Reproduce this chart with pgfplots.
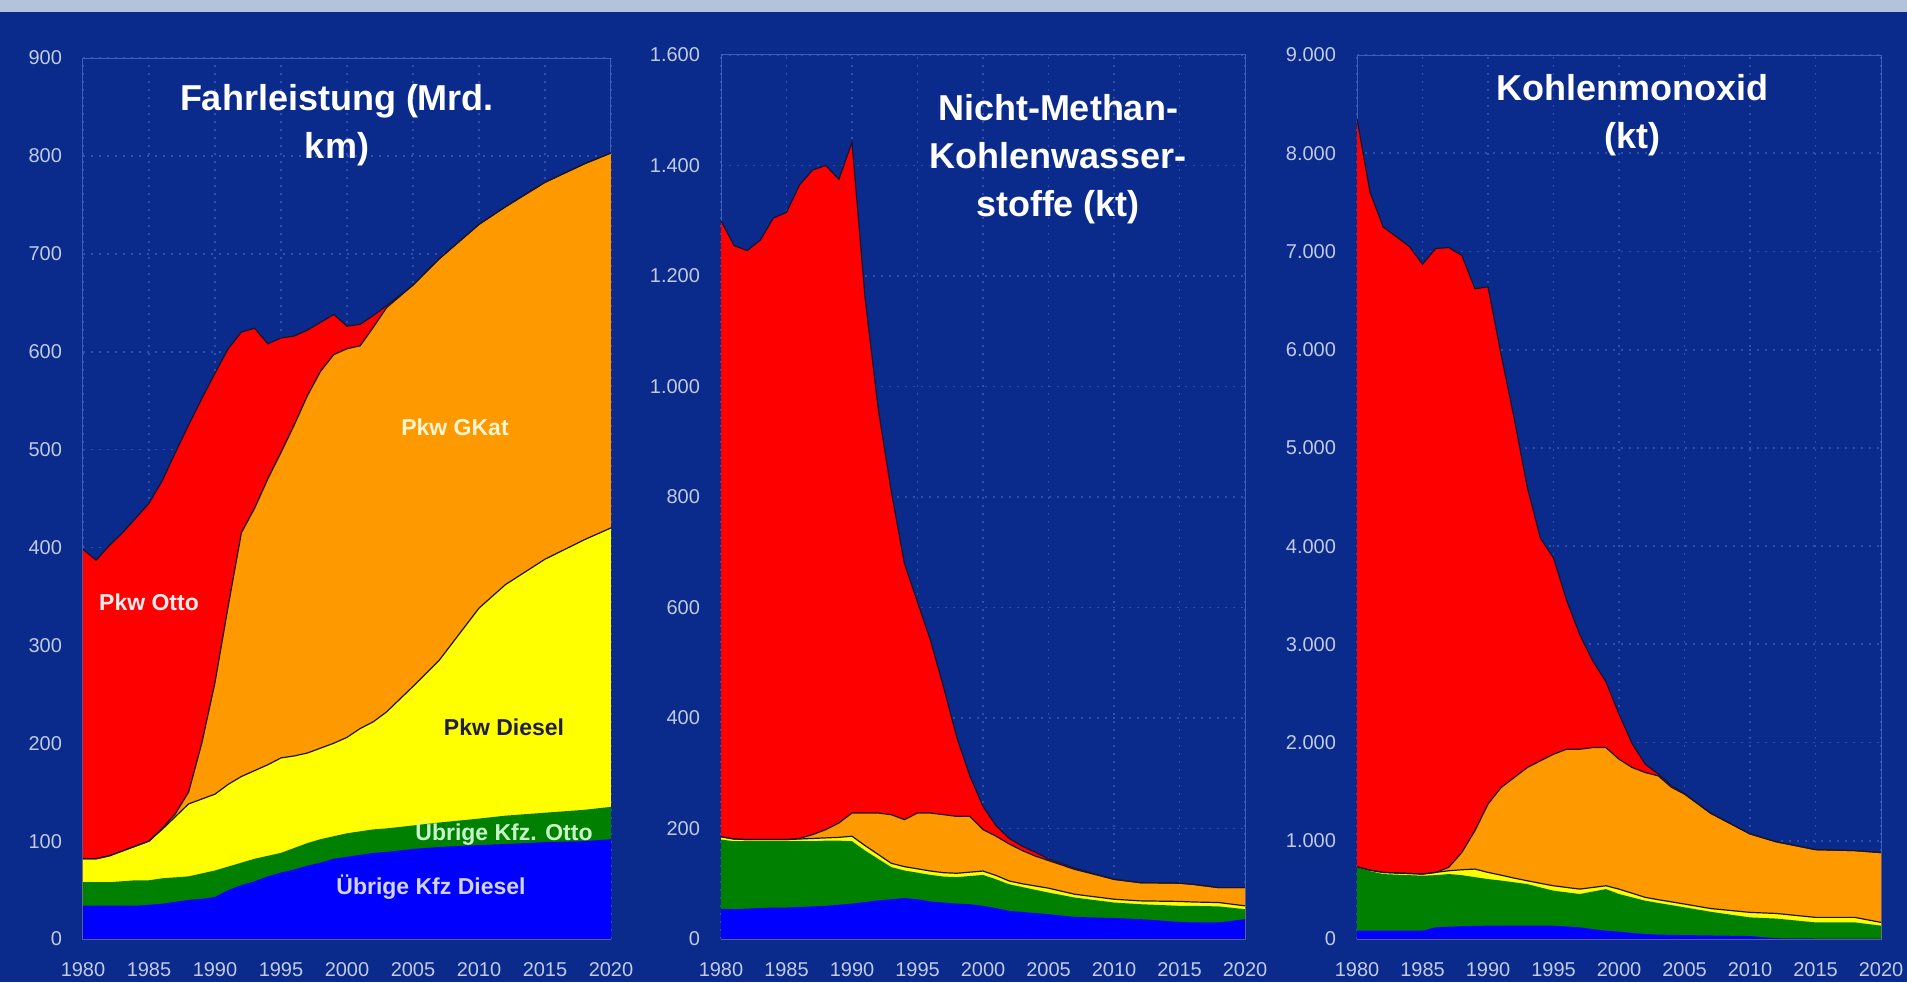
\documentclass[border=0pt]{standalone}
\usepackage{pgfplots}
\pgfplotsset{compat=1.18}
\usepackage{pgfplotstable}
\usepackage{fontspec}
\setmainfont{Liberation Sans}
\setsansfont{Liberation Sans}

\definecolor{bgblue}{RGB}{10,42,140}
\definecolor{band}{RGB}{180,195,220}
\definecolor{gridc}{RGB}{46,80,172}
\definecolor{framec}{RGB}{60,95,185}
\definecolor{tickc}{RGB}{192,203,230}
\definecolor{cRed}{RGB}{255,0,0}
\definecolor{cOrange}{RGB}{255,153,0}
\definecolor{cYellow}{RGB}{255,255,0}
\definecolor{cGreen}{RGB}{0,128,0}
\definecolor{cBlue}{RGB}{0,0,255}
\definecolor{edgec}{RGB}{25,20,45}

% cumulative tops: B = Uebrige Kfz Diesel, G = + Uebrige Kfz Otto,
% Y = + Pkw Diesel, O = + Pkw GKat, T = + Pkw Otto
\pgfplotstableread{
year B G Y O T
1980 34 58 82 82 398
1981 34 58 82 82 387
1982 34 58 85 85 402
1983 34 59 90 90 415
1984 34 60 95 95 430
1985 35 60 100 100 445
1986 36 62 112 113 468
1987 38 63 125 128 497
1988 40 64 138 150 525
1989 41 67 143 200 552
1990 43 70 148 262 578
1991 50 74 158 340 603
1992 55 78 166 415 620
1993 59 82 172 440 624
1994 64 85 178 470 608
1995 68 88 185 497 614
1996 71 93 187 525 616
1997 75 98 190 555 622
1998 78 102 195 580 630
1999 82 105 200 597 638
2000 84 108 206 603 626
2001 86 110 215 606 628
2002 88 112 222 625 637
2003 89 113 232 645 647
2005 92 116 258 668 668
2007 94 119 285 695 695
2010 96 123 338 730 730
2012 97 126 362 748 748
2015 99 129 388 773 773
2018 100 132 408 792 792
2020 102 135 420 803 803
}\fahr

\pgfplotstableread{
year B G Y O T
1980 54 180 185 185 1300
1981 54 177 181 181 1255
1982 55 177 180 180 1246
1983 56 177 180 180 1265
1984 57 177 180 180 1305
1985 57 177 180 180 1315
1986 58 177 181 182 1365
1987 59 177 182 189 1392
1988 60 178 183 198 1400
1989 62 178 184 210 1375
1990 64 177 186 228 1442
1991 67 160 169 228 1160
1992 70 145 153 228 960
1993 72 130 137 225 810
1994 74 124 131 216 680
1995 72 120 127 228 610
1996 68 116 123 228 540
1997 66 113 120 225 455
1998 64 112 119 222 365
1999 63 114 121 222 295
2000 60 116 123 198 240
2001 56 108 115 186 205
2002 51 99 105 172 182
2003 49 94 100 160 168
2004 47 89 96 150 157
2005 45 84 92 142 145
2007 40 75 81 126 128
2010 38 66 72 108 108
2012 36 63 69 102 102
2015 31 60 68 101 101
2016 30 60 67 99 99
2018 30 59 66 93 93
2020 36 54 60 93 93
}\nmvoc

\pgfplotstableread{
year B G Y O T
1980 85 729 735 735 8350
1981 85 690 700 700 7600
1982 85 661 678 678 7250
1983 85 655 672 672 7150
1984 85 650 667 667 7050
1985 85 644 661 661 6870
1986 119 650 678 678 7030
1987 125 661 695 729 7040
1988 130 650 705 881 6960
1989 133 630 712 1102 6620
1990 136 610 678 1373 6640
1991 136 595 650 1542 5950
1992 136 577 620 1644 5300
1993 136 559 593 1746 4600
1994 136 525 567 1814 4080
1995 136 492 542 1881 3880
1996 128 475 525 1932 3450
1997 119 458 508 1932 3100
1998 100 483 525 1949 2830
1999 85 508 542 1949 2620
2000 75 458 508 1831 2290
2001 62 424 466 1746 1990
2002 51 390 424 1695 1780
2003 45 367 400 1661 1680
2004 42 345 378 1545 1560
2005 40 322 356 1475 1480
2007 36 277 310 1280 1280
2010 30 220 271 1070 1070
2012 8 208 260 990 990
2015 5 169 220 910 910
2018 5 169 220 900 900
2020 5 136 169 880 880
}\co

\pgfplotsset{
  panel/.style={
    scale only axis, xmin=1980, xmax=2020, ymin=0,
    axis line style={draw=framec, line width=0.5pt},
    tick style={draw=none},
    xtick={1980,1985,...,2020},
    grid=major,
    grid style={gridc, dash pattern=on 1.2pt off 2.8pt, line width=0.9pt},
    ticklabel style={font=\fontsize{10}{12}\selectfont, text=tickc,
      /pgf/number format/assume math mode=true},
    xticklabel style={/pgf/number format/1000 sep={}, yshift=-8pt},
    yticklabel style={/pgf/number format/1000 sep={.}, xshift=-7pt},
  },
  area/.style={fill=#1, draw=none, forget plot},
  edge/.style={draw=edgec, line width=0.6pt, forget plot, no marks},
}

\newcommand\stackedareas[1]{%
  \addplot[area=cRed] table[x=year,y=T]{#1} \closedcycle;
  \addplot[area=cOrange] table[x=year,y=O]{#1} \closedcycle;
  \addplot[area=cYellow] table[x=year,y=Y]{#1} \closedcycle;
  \addplot[area=cGreen] table[x=year,y=G]{#1} \closedcycle;
  \addplot[area=cBlue] table[x=year,y=B]{#1} \closedcycle;
  \addplot[edge] table[x=year,y=Y]{#1};
  \addplot[edge] table[x=year,y=O]{#1};
  \addplot[edge] table[x=year,y=T]{#1};
}

\begin{document}
\begin{tikzpicture}
\path[use as bounding box] (0,0) rectangle (953.5pt,491pt);
\fill[bgblue] (0,0) rectangle (953.5pt,491pt);
\fill[band] (0,485pt) rectangle (953.5pt,491pt);

\begin{axis}[panel, at={(41.5pt,21.5pt)}, anchor=south west,
    width=264pt, height=440.5pt, ymax=900, ytick distance=100]
  \stackedareas{\fahr}
\end{axis}

\begin{axis}[panel, at={(360.5pt,21.5pt)}, anchor=south west,
    width=262pt, height=442pt, ymax=1600, ytick distance=200]
  \stackedareas{\nmvoc}
\end{axis}

\begin{axis}[panel, at={(678.5pt,21.5pt)}, anchor=south west,
    width=262pt, height=442pt, ymax=9000, ytick distance=1000]
  \stackedareas{\co}
\end{axis}

\begin{scope}[every node/.style={align=center, text=white,
    font=\bfseries\fontsize{18}{24}\selectfont}]
  \node at (168.5pt,428.5pt) {Fahrleistung (Mrd.\\km)};
  \node at (529pt,411.5pt) {Nicht-Methan-\\Kohlenwasser-\\stoffe (kt)};
  \node at (816pt,433.5pt) {Kohlenmonoxid\\(kt)};
\end{scope}

\begin{scope}[every node/.style={font=\bfseries\fontsize{11.5}{13}\selectfont}]
  \node[text={rgb,255:red,255;green,235;blue,235}] at (74.5pt,190pt) {Pkw Otto};
  \node[text={rgb,255:red,255;green,245;blue,208}] at (227.5pt,277.5pt) {Pkw GKat};
  \node[text={rgb,255:red,30;green,30;blue,70}] at (252pt,127.5pt) {Pkw Diesel};
  \node[text={rgb,255:red,200;green,245;blue,200}] at (252pt,74.5pt) {Übrige Kfz. Otto};
  \node[text={rgb,255:red,210;green,210;blue,255}] at (215.5pt,47.5pt) {Übrige Kfz Diesel};
\end{scope}
\end{tikzpicture}
\end{document}
